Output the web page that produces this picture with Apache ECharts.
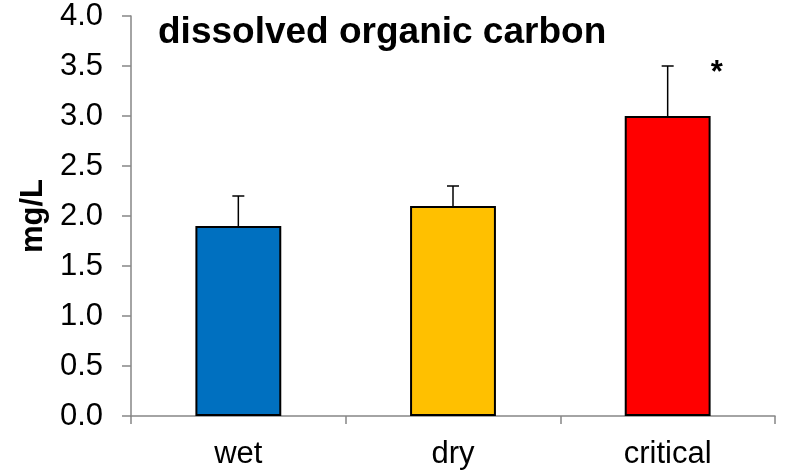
<!DOCTYPE html>
<html>
<head>
<meta charset="utf-8">
<script src="https://cdn.jsdelivr.net/npm/echarts@6/dist/echarts.min.js"></script>
<style>
  html, body { margin: 0; padding: 0; background: #fff; }
  #chart { width: 787px; height: 474px; }
</style>
</head>
<body>
<div id="chart"></div>
<script>
// dissolved organic carbon by condition
var categories = ['wet', 'dry', 'critical'];
var means = [1.9, 2.1, 3.0];
var errUpper = [2.2, 2.3, 3.5];
var signif = ['', '', '*'];
var barColors = ['#0070C0', '#FFC000', '#FF0000'];

var chart = echarts.init(document.getElementById('chart'));

var errData = categories.map(function(c, i) {
  return [i, means[i], errUpper[i]];
});

chart.setOption({
  animation: false,
  title: {
    text: 'dissolved organic carbon',
    left: 153,
    top: 9,
    textStyle: { fontFamily: 'Liberation Sans, Arial', fontSize: 37, fontWeight: 'bold', color: '#000' }
  },
  grid: { left: 131, right: 12, top: 16, bottom: 58 },
  xAxis: {
    type: 'category',
    data: categories,
    axisLine: { lineStyle: { color: '#868686', width: 1.5 } },
    axisTick: { show: true, length: 8, lineStyle: { color: '#868686', width: 1.5 } },
    axisLabel: { fontFamily: 'Liberation Sans, Arial', fontSize: 31, color: '#000', margin: 23 }
  },
  yAxis: {
    type: 'value',
    min: 0,
    max: 4,
    interval: 0.5,
    name: 'mg/L',
    nameLocation: 'middle',
    nameGap: 78,
    nameTextStyle: { fontFamily: 'Liberation Sans, Arial', fontSize: 31, fontWeight: 'bold', color: '#000' },
    splitLine: { show: false },
    axisLine: { show: true, lineStyle: { color: '#868686', width: 1.5 } },
    axisTick: { show: true, length: 9, lineStyle: { color: '#868686', width: 1.5 } },
    axisLabel: {
      fontFamily: 'Liberation Sans, Arial', fontSize: 31, color: '#000', margin: 28,
      formatter: function(v) { return v.toFixed(1); }
    }
  },
  series: [
    {
      type: 'bar',
      barWidth: '40%',
      data: means.map(function(v, i) {
        return { value: v, itemStyle: { color: barColors[i] } };
      }),
      itemStyle: { borderColor: '#000', borderWidth: 2 }
    },
    {
      type: 'custom',
      data: errData,
      z: 5,
      renderItem: function(params, api) {
        var i = api.value(0);
        var lo = api.coord([i, api.value(1)]);
        var hi = api.coord([i, api.value(2)]);
        var half = 6;
        var children = [
          { type: 'line', shape: { x1: lo[0], y1: lo[1], x2: hi[0], y2: hi[1] }, style: { stroke: '#000', lineWidth: 1.5 } },
          { type: 'line', shape: { x1: hi[0] - half, y1: hi[1], x2: hi[0] + half, y2: hi[1] }, style: { stroke: '#000', lineWidth: 1.5 } }
        ];
        if (signif[i]) {
          children.push({
            type: 'text',
            style: {
              text: signif[i], x: hi[0] + 49, y: hi[1] + 7,
              fill: '#000', font: 'bold 31px Liberation Sans, Arial',
              align: 'center', verticalAlign: 'middle'
            }
          });
        }
        return { type: 'group', children: children };
      }
    }
  ]
});
</script>
</body>
</html>
